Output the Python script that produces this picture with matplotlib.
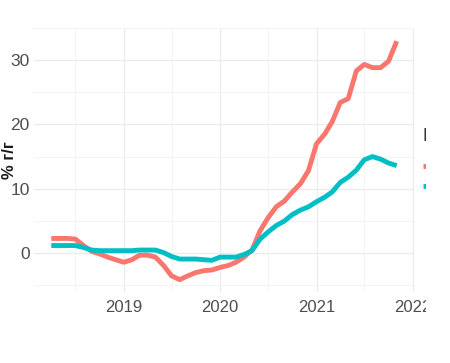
import matplotlib
matplotlib.use("Agg")
import matplotlib.pyplot as plt
import matplotlib.dates as mdates
from matplotlib.patches import Rectangle
import pandas as pd
import numpy as np

dates = pd.date_range("2018-04-01", "2021-11-01", freq="MS")

series_red = [2.3, 2.3, 2.3, 2.2, 1.2, 0.3, -0.1, -0.6, -1.0,
              -1.4, -1.0, -0.3, -0.3, -0.6, -1.9, -3.5, -4.1, -3.5, -3.0, -2.7, -2.6,
              -2.2, -1.9, -1.4, -0.6, 0.5, 3.5, 5.5, 7.2, 8.1, 9.5, 10.8, 12.8,
              17.0, 18.5, 20.4, 23.4, 24.0, 28.3, 29.3, 28.8, 28.8, 29.8, 32.9]
series_teal = [1.2, 1.2, 1.2, 1.2, 0.9, 0.5, 0.4, 0.4, 0.4,
               0.4, 0.4, 0.5, 0.5, 0.5, 0.1, -0.5, -0.9, -0.9, -0.9, -1.0, -1.1,
               -0.6, -0.6, -0.6, -0.2, 0.4, 2.2, 3.3, 4.3, 5.0, 6.0, 6.7, 7.2,
               8.0, 8.7, 9.5, 11.0, 11.8, 12.9, 14.5, 15.0, 14.6, 14.0, 13.6]
series_names = ["Продовольствие", "Всего"]
y_ticks = [0, 10, 20, 30]
x_tick_years = [2019, 2020, 2021, 2022]
y_label = "% г/г"
legend_title = "Индекс"

RED = "#F8766D"
TEAL = "#00BFC4"
FONT = ["Liberation Sans Narrow", "Liberation Sans", "DejaVu Sans"]

fig = plt.figure(figsize=(4.5, 3.63), dpi=100)
W, H = 450, 363
ax = fig.add_axes([34 / W, (H - 291.6) / H, (414 - 34) / W, (291.6 - 27.7) / H])

xn = mdates.date2num(dates)
l1, = ax.plot(xn, series_red, color=RED, lw=3.5, solid_capstyle="butt", zorder=3, label=series_names[0])
l2, = ax.plot(xn, series_teal, color=TEAL, lw=3.5, solid_capstyle="butt", zorder=3, label=series_names[1])

# ggplot-like expansion
allv = np.array(series_red + series_teal)
ymin, ymax = allv.min(), allv.max()
ey = 0.05 * (ymax - ymin)
ax.set_ylim(ymin - ey, ymax + ey)
ex = 0.05 * (xn[-1] - xn[0])
ax.set_xlim(xn[0] - ex, xn[-1] + ex)

ax.set_yticks(y_ticks)
ax.set_yticks([-5, 5, 15, 25, 35], minor=True)
ax.set_yticklabels([str(v) for v in y_ticks])
xt = [mdates.date2num(pd.Timestamp(f"{y}-01-01")) for y in x_tick_years]
ax.set_xticks(xt)
ax.set_xticklabels([str(y) for y in x_tick_years])
ax.set_xticks([mdates.date2num(pd.Timestamp(f"{y}-07-01")) for y in range(2018, 2022)], minor=True)

ax.grid(True, which="major", color="#EBEBEB", lw=0.9, zorder=0)
ax.grid(True, which="minor", color="#F3F3F3", lw=0.6, zorder=0)
ax.set_axisbelow(True)
for s in ax.spines.values():
    s.set_visible(False)
ax.tick_params(which="both", length=0)
ax.tick_params(axis="y", pad=3, labelsize=12.5, labelcolor="#4D4D4D")
ax.tick_params(axis="x", pad=6, labelsize=12, labelcolor="#4D4D4D")
for t in ax.get_xticklabels() + ax.get_yticklabels():
    t.set_family(FONT)

ax.set_ylabel(y_label, fontsize=12, fontweight="bold", family=FONT, color="#1A1A1A", labelpad=1)
ax.yaxis.set_label_coords(-17 / 380, 0.5)

# legend (cropped at the right edge as in the reference)
fig.text(423 / W, 1 - 137 / H, legend_title, family=FONT, size=13, color="#333333",
         ha="left", va="center")
leg = fig.legend(handles=[l1, l2], loc="upper left",
                 bbox_to_anchor=(422.5 / W, 1 - 160 / H), frameon=False,
                 handlelength=1.5, handletextpad=0.5, borderpad=0, borderaxespad=0,
                 labelspacing=0.4, prop={"family": FONT, "size": 10})

cover = Rectangle((426 / W, 0), 1 - 426 / W, 1, transform=fig.transFigure,
                  facecolor="white", edgecolor="none", zorder=20)
fig.patches.append(cover)

fig.savefig("out.png", dpi=100)
